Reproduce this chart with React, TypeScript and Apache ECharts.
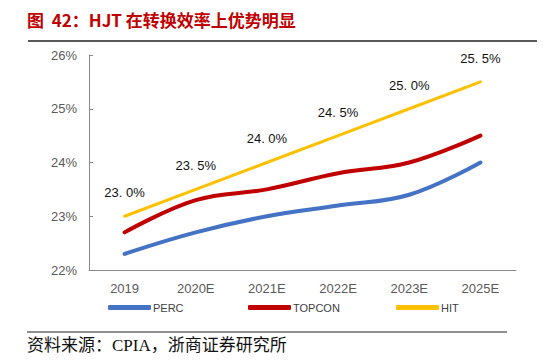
import React, { useEffect, useRef } from "react";
import * as echarts from "echarts";

const categories = ["2019", "2020E", "2021E", "2022E", "2023E", "2025E"];
const perc = [22.3, 22.7, 23.0, 23.2, 23.4, 24.0];
const topcon = [22.7, 23.3, 23.5, 23.8, 24.0, 24.5];
const hit = [23.0, 23.5, 24.0, 24.5, 25.0, 25.5];
const yTicks = { min: 22, max: 26, interval: 1 };

const titleText = "图  42：HJT 在转换效率上优势明显";
const sourceText = "资料来源：CPIA，浙商证券研究所";

export default function App() {
  const ref = useRef<HTMLDivElement>(null);
  useEffect(() => {
    if (!ref.current) return;
    const chart = echarts.init(ref.current, null, { renderer: "svg" });
    const legendText = { fontSize: 11, color: "#404040", fontFamily: "Liberation Sans Narrow, Liberation Sans, Arial", padding: [0, 0, 0, -3] };
    const mkLegend = (name: string, left: number) => ({
      data: [name],
      left,
      top: 302,
      itemWidth: 43,
      itemHeight: 5,
      icon: "roundRect",
      padding: 0,
      textStyle: legendText,
    });
    const labelFont = { fontFamily: "Liberation Sans, Arial", fontSize: 13, color: "#595959" };
    chart.setOption({
      animation: false,
      backgroundColor: "#ffffff",
      grid: { left: 89, right: 38, top: 55, bottom: 91 },
      legend: [mkLegend("PERC", 108), mkLegend("TOPCON", 248), mkLegend("HIT", 396)],
      xAxis: {
        type: "category",
        data: categories,
        boundaryGap: true,
        axisLine: { lineStyle: { color: "#898989", width: 1 } },
        axisTick: { inside: true, length: 5, lineStyle: { color: "#898989" } },
        axisLabel: { ...labelFont, margin: 12 },
      },
      yAxis: {
        type: "value",
        min: yTicks.min,
        max: yTicks.max,
        interval: yTicks.interval,
        axisLine: { show: true, lineStyle: { color: "#898989", width: 1 } },
        axisTick: { show: true, inside: true, length: 4, lineStyle: { color: "#898989" } },
        splitLine: { show: false },
        axisLabel: { ...labelFont, margin: 12, formatter: "{value}%" },
      },
      series: [
        {
          name: "PERC",
          type: "line",
          data: perc,
          smooth: 0.4,
          showSymbol: false,
          symbol: "none",
          lineStyle: { color: "#4472C4", width: 4, cap: "round" },
          itemStyle: { color: "#4472C4" },
        },
        {
          name: "TOPCON",
          type: "line",
          data: topcon,
          smooth: 0.4,
          showSymbol: false,
          symbol: "none",
          lineStyle: { color: "#C00000", width: 4, cap: "round" },
          itemStyle: { color: "#C00000" },
        },
        {
          name: "HIT",
          type: "line",
          data: hit,
          symbol: "circle",
          symbolSize: 0.1,
          showSymbol: true,
          lineStyle: { color: "#FFC000", width: 3, cap: "round" },
          itemStyle: { color: "#FFC000" },
          label: {
            show: true,
            position: "top",
            distance: 17,
            color: "#111111",
            fontSize: 13,
            fontFamily: "Liberation Sans, Arial",
            formatter: (p: any) => p.value.toFixed(1).replace(".", ". ") + "%",
          },
        },
      ],
      graphic: [
        {
          type: "text",
          left: 27,
          top: 11,
          style: {
            text: titleText,
            fill: "#C00000",
            font: "bold 17px 'Noto Sans CJK SC', sans-serif",
          },
        },
        {
          type: "line",
          shape: { x1: 28, y1: 41, x2: 537, y2: 41 },
          style: { stroke: "#222", lineWidth: 1.5 },
        },
        {
          type: "line",
          shape: { x1: 27, y1: 332, x2: 507, y2: 332 },
          style: { stroke: "#222", lineWidth: 1.2 },
        },
        {
          type: "text",
          left: 27,
          top: 337,
          style: {
            text: sourceText,
            fill: "#111",
            font: "17px 'Liberation Serif', 'Noto Sans CJK SC', serif",
          },
        },
      ],
    });
    return () => chart.dispose();
  }, []);
  return <div ref={ref} style={{ width: 554, height: 361, position: "absolute", left: 0, top: 0 }} />;
}
